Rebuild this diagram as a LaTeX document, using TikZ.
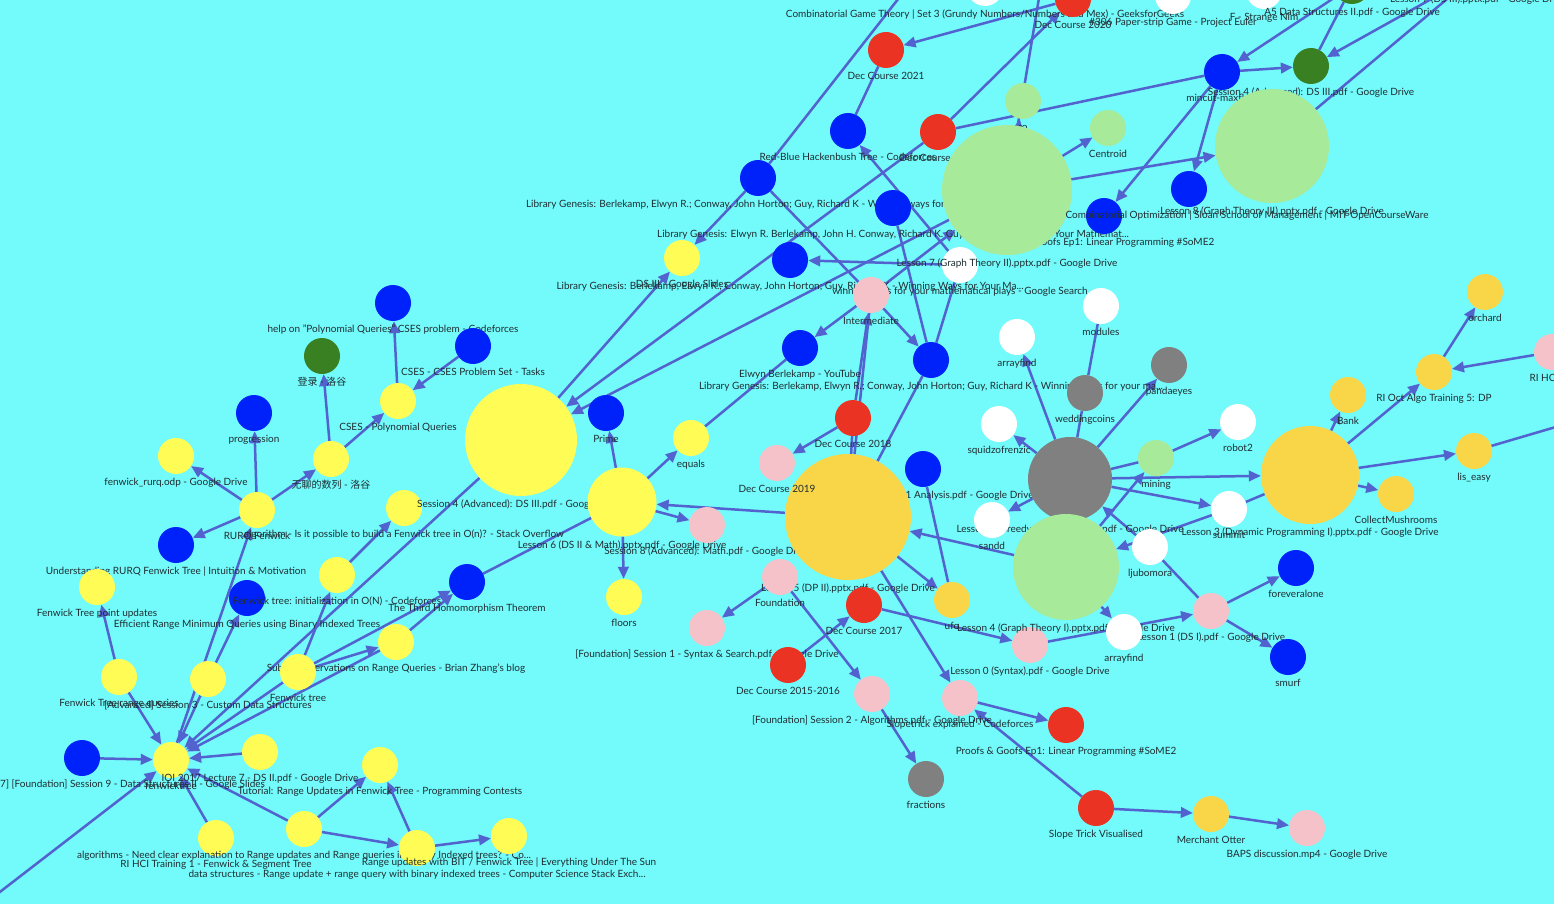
\documentclass[tikz,border=0pt]{standalone}
\usepackage{fontspec}
\setmainfont{Lato}
\newfontfamily\cjk{Noto Sans CJK SC}
\usetikzlibrary{arrows.meta, backgrounds}
\definecolor{bgcyan}{RGB}{115,250,250}
\definecolor{edgeblue}{RGB}{82,98,206}
\definecolor{inkgray}{RGB}{30,45,50}
\definecolor{yellowN}{RGB}{255,253,85}
\definecolor{goldN}{RGB}{249,214,72}
\definecolor{blueN}{RGB}{0,34,250}
\definecolor{redN}{RGB}{234,51,35}
\definecolor{dkgreenN}{RGB}{56,128,34}
\definecolor{ltgreenN}{RGB}{166,234,154}
\definecolor{pinkN}{RGB}{244,194,200}
\definecolor{grayN}{RGB}{128,128,128}
\pgfdeclarelayer{canvas}
\pgfsetlayers{canvas,background,main}

\begin{document}
\begin{tikzpicture}[x=1pt, y=-1pt,
    every label/.style={font=\fontsize{10}{11}\selectfont, text=inkgray, text height=7pt, text depth=2pt, inner sep=0pt},
    label distance=4.5pt,
    dot/.style={circle, fill=#1, minimum size=36pt, inner sep=0pt},
    dot/.default=yellowN,
    con/.style={draw=edgeblue, line width=2.5pt, -{Triangle[length=12pt, width=10.5pt]}},
    bare/.style={draw=edgeblue, line width=2.5pt},
]

% canvas
\useasboundingbox (0,0) rectangle (1554,904);
\begin{pgfonlayer}{canvas}
\fill[bgcyan] (0,0) rectangle (1554,904);
\end{pgfonlayer}

% Top: course and game theory pages
\node[dot=white] (cgt) at (985,-12) [label={below:{Combinatorial Game Theory | Set 3 (Grundy Numbers/Numbers and Mex) - GeeksforGeeks}}] {};
\node[dot=white] (euler) at (1173,-4) [label={below:{\#306 Paper-strip Game - Project Euler}}] {};
\node[dot=white] (nim) at (1264,-9) [label={below:{F - Strange Nim}}] {};
\node[dot=dkgreenN] (a5) at (1352,-14) [label={below:{A5 Data Structures II.pdf - Google Drive}}] {};
\node[dot=goldN] (ds3lesson) at (1478,-27) [label={below:{Lesson 7 (DS III).pptx.pdf - Google Drive}}] {};
\node[dot=redN] (dec20) at (1073,-1) [label={below:{Dec Course 2020}}] {};
\node[dot=redN] (dec21) at (886,50) [label={below:{Dec Course 2021}}] {};
\node[dot=blueN] (hack) at (848,131) [label={below:{Red-Blue Hackenbush Tree - Codeforces}}] {};
\node[dot=blueN] (libgenA) at (758,178) [label={below:{Library Genesis: Berlekamp, Elwyn R.; Conway, John Horton; Guy, Richard K - Winning ways for your ma...}}] {};
\node[dot=blueN] (libgenB) at (893,208) [label={below:{Library Genesis: Elwyn R. Berlekamp, John H. Conway, Richard K. Guy - Winning Ways for Your Mathemat...}}] {};
\node[dot=redN] (decX) at (938,132) [label={below:{Dec Course 2022}}] {};
\node[dot=ltgreenN] (ro) at (1023,101) [label={below:{ro}}] {};
\node[dot=ltgreenN] (centroid) at (1108,128) [label={below:{Centroid}}] {};
\node[dot=blueN] (proofsB) at (1104,216) [label={below:{Proofs \& Goofs Ep1: Linear Programming \#SoME2}}] {};
\node[dot=blueN] (libgenC) at (790,260) [label={below:{Library Genesis: Berlekamp, Elwyn R.; Conway, John Horton; Guy, Richard K - Winning Ways for Your Ma...}}] {};
\node[dot=white] (gsearch) at (960,265) [label={below:{winning ways for your mathematical plays - Google Search}}] {};
\node[dot=ltgreenN, minimum size=130pt] (graph2) at (1007,190) [label={below:{Lesson 7 (Graph Theory II).pptx.pdf - Google Drive}}] {};
\node[dot=pinkN] (intermediate) at (871,295) [label={below:{Intermediate}}] {};
\node[dot=blueN] (elwyn) at (800,348) [label={below:{Elwyn Berlekamp - YouTube}}] {};
\node[dot=blueN] (libgenD) at (931,360) [label={below:{Library Genesis: Berlekamp, Elwyn R.; Conway, John Horton; Guy, Richard K - Winning ways for your ma...}}] {};
\node[dot=blueN] (mincut) at (1222,72) [label={below:{mincut-maxflow}}] {};
\node[dot=dkgreenN] (dsIIIg) at (1311,66) [label={below:{Session 4 (Advanced): DS III.pdf - Google Drive}}] {};
\node[dot=blueN] (mitOcw) at (1189,189) [label={[xshift=58pt]below:{Combinatorial Optimization | Sloan School of Management | MIT OpenCourseWare}}] {};
\node[dot=ltgreenN, minimum size=114pt] (graph3) at (1272,146) [label={below:{Lesson 8 (Graph Theory III).pptx.pdf - Google Drive}}] {};
\node[dot] (dsIII) at (682,258) [label={below:{DS III - Google Slides}}] {};

% Left: Fenwick tree pages
\node[dot=blueN] (helpPQ) at (393,303) [label={below:{help on "Polynomial Queries" CSES problem - Codeforces}}] {};
\node[dot=dkgreenN] (luogu) at (322,356) [label={below:{{\cjk 登录} - {\cjk 洛谷}}}] {};
\node[dot=blueN] (cses) at (473,346) [label={below:{CSES - CSES Problem Set - Tasks}}] {};
\node[dot] (csesPQ) at (398,401) [label={below:{CSES - Polynomial Queries}}] {};
\node[dot=blueN] (progression) at (254,413) [label={below:{progression}}] {};
\node[dot] (rurqOdp) at (176,456) [label={below:{fenwick\_rurq.odp - Google Drive}}] {};
\node[dot] (boring) at (331,459) [label={below:{{\cjk 无聊的数列} - {\cjk 洛谷}}}] {};
\node[dot] (rurq) at (257,510) [label={below:{RURQ Fenwick}}] {};
\node[dot=blueN] (rurqVid) at (176,545) [label={below:{Understanding RURQ Fenwick Tree | Intuition \& Motivation}}] {};
\node[dot] (soBuild) at (404,508) [label={below:{algorithm - Is it possible to build a Fenwick tree in O(n)? - Stack Overflow}}] {};
\node[dot] (pointUpd) at (97,587) [label={below:{Fenwick Tree point updates}}] {};
\node[dot=blueN] (rmq) at (247,598) [label={below:{Efficient Range Minimum Queries using Binary Indexed Trees}}] {};
\node[dot] (cfInit) at (337,575) [label={below:{Fenwick tree: initialization in O(N) - Codeforces}}] {};
\node[dot=blueN] (thirdHom) at (467,582) [label={below:{The Third Homomorphism Theorem}}] {};
\node[dot] (rangeQ) at (119,677) [label={below:{Fenwick Tree range queries}}] {};
\node[dot] (adv3) at (208,679) [label={below:{[Advanced] Session 3 - Custom Data Structures}}] {};
\node[dot] (subtle) at (396,642) [label={below:{Subtle Observations on Range Queries - Brian Zhang's blog}}] {};
\node[dot] (fwTree) at (298,672) [label={below:{Fenwick tree}}] {};
\node[dot=blueN] (found9) at (82,758) [label={below:{[Dec Course 2016-2017] [Foundation] Session 9 - Data Structures II - Google Slides}}] {};
\node[dot] (fenwicktree) at (171,760) [label={below:{fenwicktree}}] {};
\node[dot] (ioi) at (260,752) [label={below:{IOI 2017 Lecture 7 - DS II.pdf - Google Drive}}] {};
\node[dot] (tutorial) at (380,765) [label={below:{Tutorial: Range Updates in Fenwick Tree - Programming Contests}}] {};
\node[dot] (rihci1) at (216,838) [label={below:{RI HCI Training 1 - Fenwick \& Segment Tree}}] {};
\node[dot] (seRange) at (304,829) [label={below:{algorithms - Need clear explanation to Range updates and Range queries in Binary Indexed trees? - Co...}}] {};
\node[dot] (csRange) at (417,848) [label={below:{data structures - Range update + range query with binary indexed trees - Computer Science Stack Exch...}}] {};
\node[dot] (sunRange) at (509,836) [label={below:{Range updates with BIT / Fenwick Tree | Everything Under The Sun}}] {};

% Middle: DS and DP lessons
\node[dot, minimum size=112pt] (advDS) at (521,440) [label={below:{Session 4 (Advanced): DS III.pdf - Google Slides}}] {};
\node[dot=blueN] (prime) at (606,413) [label={below:{Prime}}] {};
\node[dot] (equals) at (691,438) [label={below:{equals}}] {};
\node[dot, minimum size=69pt] (lesson6) at (622,502) [label={below:{Lesson 6 (DS II \& Math).pptx.pdf - Google Drive}}] {};
\node[dot=pinkN] (adv8) at (707,525) [label={below:{Session 8 (Advanced): Math.pdf - Google Drive}}] {};
\node[dot] (floors) at (624,597) [label={below:{floors}}] {};
\node[dot=redN] (dec18) at (853,418) [label={below:{Dec Course 2018}}] {};
\node[dot=blueN] (analysis) at (923,469) [label={below:{[Advanced] Session 11 Analysis.pdf - Google Drive}}] {};
\node[dot=goldN, minimum size=126pt] (dp2) at (848,517) [label={below:{Lesson 5 (DP II).pptx.pdf - Google Drive}}] {};
\node[dot=pinkN] (dec19) at (777,463) [label={below:{Dec Course 2019}}] {};
\node[dot=pinkN] (foundation) at (780,577) [label={below:{Foundation}}] {};
\node[dot=pinkN] (found1) at (707,628) [label={below:{[Foundation] Session 1 - Syntax \& Search.pdf - Google Drive}}] {};
\node[dot=redN] (dec1516) at (788,665) [label={below:{Dec Course 2015-2016}}] {};
\node[dot=redN] (dec17) at (864,605) [label={below:{Dec Course 2017}}] {};
\node[dot=pinkN] (found2) at (872,694) [label={below:{[Foundation] Session 2 - Algorithms.pdf - Google Drive}}] {};
\node[dot=grayN] (fractions) at (926,779) [label={below:{fractions}}] {};
\node[dot=goldN] (ufo) at (952,600) [label={below:{ufo}}] {};
\node[dot=pinkN] (lesson0) at (1030,645) [label={below:{Lesson 0 (Syntax).pdf - Google Drive}}] {};
\node[dot=pinkN] (slopeCF) at (960,698) [label={below:{Slopetrick explained - Codeforces}}] {};
\node[dot=redN] (proofsR) at (1066,725) [label={below:{Proofs \& Goofs Ep1: Linear Programming \#SoME2}}] {};
\node[dot=redN] (slopeVis) at (1096,808) [label={below:{Slope Trick Visualised}}] {};
\node[dot=goldN] (otter) at (1211,814) [label={below:{Merchant Otter}}] {};
\node[dot=pinkN] (baps) at (1307,828) [label={below:{BAPS discussion.mp4 - Google Drive}}] {};

% Right: greedy, graph and DP problems
\node[dot=white] (arrayfindA) at (1017,337) [label={below:{arrayfind}}] {};
\node[dot=white] (modules) at (1101,306) [label={below:{modules}}] {};
\node[dot=grayN] (panda) at (1169,365) [label={below:{pandaeyes}}] {};
\node[dot=grayN] (wedding) at (1085,393) [label={below:{weddingcoins}}] {};
\node[dot=white] (squid) at (999,424) [label={below:{squidzofrenzic}}] {};
\node[dot=grayN, minimum size=84pt] (greedy) at (1070,479) [label={below:{Lesson 2 (Greedy Problems).pptx.pdf - Google Drive}}] {};
\node[dot=ltgreenN] (mining) at (1156,458) [label={below:{mining}}] {};
\node[dot=white] (robot) at (1238,422) [label={below:{robot2}}] {};
\node[dot=white] (sandd) at (992,520) [label={below:{sandd}}] {};
\node[dot=white] (summit) at (1229,509) [label={below:{summit}}] {};
\node[dot=pinkN] (lesson1) at (1211,611) [label={below:{Lesson 1 (DS I).pdf - Google Drive}}] {};
\node[dot=ltgreenN, minimum size=106pt] (graph1) at (1066,567) [label={below:{Lesson 4 (Graph Theory I).pptx.pdf - Google Drive}}] {};
\node[dot=white] (ljub) at (1150,547) [label={below:{ljubomora}}] {};
\node[dot=white] (arrayfindB) at (1124,632) [label={below:{arrayfind}}] {};
\node[dot=blueN] (forever) at (1296,568) [label={below:{foreveralone}}] {};
\node[dot=blueN] (smurf) at (1288,657) [label={below:{smurf}}] {};
\node[dot=goldN, minimum size=98pt] (dp1) at (1310,475) [label={below:{Lesson 3 (Dynamic Programming I).pptx.pdf - Google Drive}}] {};
\node[dot=goldN] (bank) at (1348,395) [label={below:{Bank}}] {};
\node[dot=goldN] (riOct) at (1434,372) [label={below:{RI Oct Algo Training 5: DP}}] {};
\node[dot=goldN] (orchard) at (1485,292) [label={below:{orchard}}] {};
\node[dot=pinkN] (riHci) at (1552,352) [label={below:{RI HCI DP}}] {};
\node[dot=goldN] (lis) at (1474,451) [label={below:{lis\_easy}}] {};
\node[dot=goldN] (mush) at (1396,494) [label={below:{CollectMushrooms}}] {};
\node[dot=goldN] (longest) at (1600,414) [label={below:{Longest Path}}] {};

% loose ends off the canvas
\coordinate (offSW) at (-30,915);
\coordinate (offTop) at (913,-20);
\coordinate (offGreen) at (1042,-20);

% Links, kept behind the nodes
\begin{scope}[on background layer]
\foreach \a/\b in {offSW/fenwicktree, found9/fenwicktree, rangeQ/fenwicktree, rangeQ/pointUpd,
    adv3/fenwicktree, adv3/rmq, fenwicktree/rurq, rurq/rurqOdp, rurq/progression, rurq/rurqVid,
    rurq/boring, boring/luogu, boring/csesPQ, csesPQ/helpPQ, cses/csesPQ, advDS/fenwicktree,
    cfInit/soBuild, fwTree/fenwicktree, fwTree/cfInit, fwTree/subtle, fwTree/thirdHom,
    subtle/thirdHom, subtle/fenwicktree, ioi/fenwicktree, seRange/fenwicktree, seRange/tutorial,
    seRange/csRange, csRange/tutorial, csRange/sunRange, rihci1/fenwicktree,
    lesson6/prime, lesson6/equals, lesson6/adv8, lesson6/floors, dp2/lesson6,
    advDS/dsIII, libgenA/dsIII, dec20/dec21, decX/dec20, decX/advDS,
    graph2/advDS, graph2/centroid, graph2/ro, graph2/graph3, gsearch/hack, gsearch/libgenC,
    intermediate/graph2, intermediate/elwyn, intermediate/libgenD, dec18/intermediate, dec18/dec19,
    dp2/ufo, graph1/dp2, greedy/sandd, greedy/squid, greedy/arrayfindA, greedy/panda,
    greedy/dp1, greedy/summit, mining/robot, summit/graph1, graph1/mining, ljub/greedy,
    graph1/arrayfindB, lesson0/lesson1, dec17/lesson0, dec1516/dec17, foundation/found1,
    foundation/found2, found2/fractions, dp2/slopeCF, slopeCF/proofsR, slopeVis/slopeCF,
    slopeVis/otter, otter/baps, lesson1/forever, lesson1/smurf, dp1/bank, dp1/riOct,
    dp1/lis, dp1/mush, riOct/orchard, riHci/riOct, mincut/dsIIIg, mincut/mitOcw,
    mincut/proofsB, a5/mincut, ds3lesson/dsIIIg}
    \draw[con] (\a) -- (\b);
\foreach \a/\b in {lesson6/thirdHom, offTop/libgenA, dec21/hack, decX/mincut, offGreen/graph2,
    libgenA/intermediate, libgenB/libgenD, dp2/intermediate, dp2/libgenD, dp2/dec18,
    libgenD/gsearch, elwyn/equals, ufo/analysis, greedy/wedding, wedding/modules,
    greedy/mining, summit/dp1, ljub/lesson1, lis/longest, a5/dsIIIg, ds3lesson/graph3}
    \draw[bare] (\a) -- (\b);
\end{scope}

\end{tikzpicture}
\end{document}
